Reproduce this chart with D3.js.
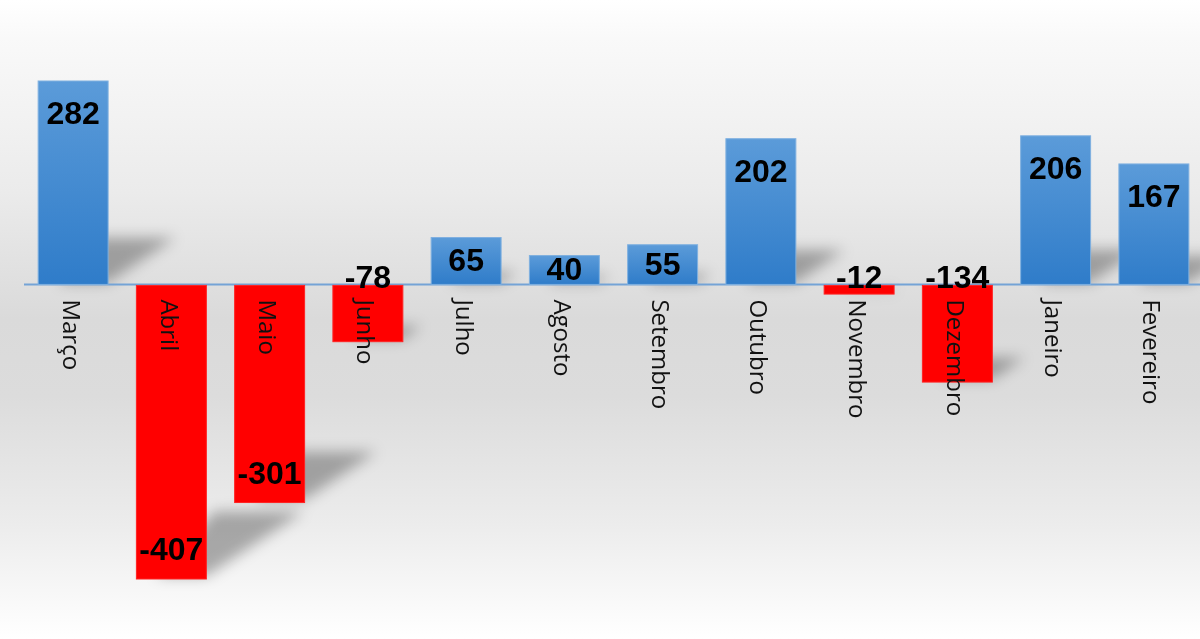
<!DOCTYPE html>
<html lang="pt">
<head>
<meta charset="UTF-8">
<script src="https://d3js.org/d3.v7.min.js"></script>
<style>
  html, body { margin: 0; padding: 0; background: #fff; }
  svg { display: block; }
</style>
</head>
<body>
<svg id="chart" width="1200" height="639"></svg>
<script>
// data
const months = ['Março', 'Abril', 'Maio', 'Junho', 'Julho', 'Agosto', 'Setembro', 'Outubro', 'Novembro', 'Dezembro', 'Janeiro', 'Fevereiro'];
const values = [282, -407, -301, -78, 65, 40, 55, 202, -12, -134, 206, 167];

const svg = d3.select('#chart');
const width = +svg.attr('width');
const height = +svg.attr('height');

const defs = svg.append('defs');

// background gradient (white -> grey -> white)
const bg = defs.append('linearGradient').attr('id', 'bg')
    .attr('x1', 0).attr('y1', 0).attr('x2', 0).attr('y2', 1);
[[0, '#ffffff'], [0.06, '#f9f9f9'], [0.3, '#ebebeb'], [0.5, '#dadada'], [0.62, '#dcdcdc'], [0.82, '#ececec'], [1, '#ffffff']]
    .forEach(s => bg.append('stop').attr('offset', s[0]).attr('stop-color', s[1]));

const blue = defs.append('linearGradient').attr('id', 'blueBar')
    .attr('x1', 0).attr('y1', 0).attr('x2', 0).attr('y2', 1);
blue.append('stop').attr('offset', 0).attr('stop-color', '#5b9bd9');
blue.append('stop').attr('offset', 1).attr('stop-color', '#2f7cc9');

defs.append('filter').attr('id', 'blur')
    .attr('x', '-50%').attr('y', '-50%').attr('width', '200%').attr('height', '200%')
    .append('feGaussianBlur').attr('stdDeviation', 7);

svg.append('rect').attr('width', width).attr('height', height).attr('fill', 'url(#bg)');

// scales
const x = d3.scaleBand()
    .domain(months)
    .range([24, 1203])
    .paddingInner(0.288)
    .paddingOuter(0.144);

const y = d3.scaleLinear()
    .domain([-407, 282])
    .range([578, 81]);

const zero = y(0);
const data = months.map((m, i) => ({month: m, value: values[i]}));

// perspective shadows cast up-right from the far end of each bar,
// their length follows the bar length
svg.append('g').attr('filter', 'url(#blur)')
  .selectAll('path')
  .data(data)
  .join('path')
    .attr('d', d => {
        const h = Math.abs(y(d.value) - zero);
        const x0 = x(d.month), x1 = x0 + x.bandwidth();
        const yb = d.value >= 0 ? zero - 2 : y(d.value) - 2;
        const dx = 0.33 * h, dy = 0.22 * h;
        return `M${x0 + 20},${yb} L${x1},${yb} L${x1 + dx},${yb - dy} L${x0 + 20 + dx * 0.6},${yb - dy} Z`;
    })
    .attr('fill', '#000')
    .attr('opacity', 0.3);

// zero line
svg.append('line')
    .attr('x1', 24).attr('x2', width)
    .attr('y1', zero).attr('y2', zero)
    .attr('stroke', '#74a3d6')
    .attr('stroke-width', 2);

// bars
svg.append('g')
  .selectAll('rect')
  .data(data)
  .join('rect')
    .attr('x', d => x(d.month))
    .attr('width', x.bandwidth())
    .attr('y', d => d.value >= 0 ? y(d.value) : zero + 1)
    .attr('height', d => Math.abs(y(d.value) - zero))
    .attr('fill', d => d.value >= 0 ? 'url(#blueBar)' : '#ff0000')
    .attr('stroke', d => d.value >= 0 ? '#7fb0e0' : '#f22')
    .attr('stroke-width', 1);

// category labels, rotated
svg.append('g')
  .selectAll('text')
  .data(data)
  .join('text')
    .attr('transform', d => `translate(${x(d.month) + x.bandwidth() / 2 - 1},${zero + 15}) rotate(90)`)
    .attr('dominant-baseline', 'central')
    .style('font-family', '"Open Sans", sans-serif')
    .style('font-size', '24px')
    .attr('fill', '#111')
    .text(d => d.month);

// value labels
svg.append('g')
  .selectAll('text')
  .data(data)
  .join('text')
    .attr('x', d => x(d.month) + x.bandwidth() / 2)
    .attr('y', d => {
        const top = y(d.value);
        if (d.value >= 0) return Math.min(top + 43, (top + zero) / 2 + 10);
        if (d.value < -200) return top - 18;
        return zero + 4;
    })
    .attr('text-anchor', 'middle')
    .style('font-family', '"Liberation Sans", Arial, sans-serif')
    .style('font-weight', 'bold')
    .style('font-size', '32px')
    .attr('fill', '#000')
    .text(d => d.value);
</script>
</body>
</html>
